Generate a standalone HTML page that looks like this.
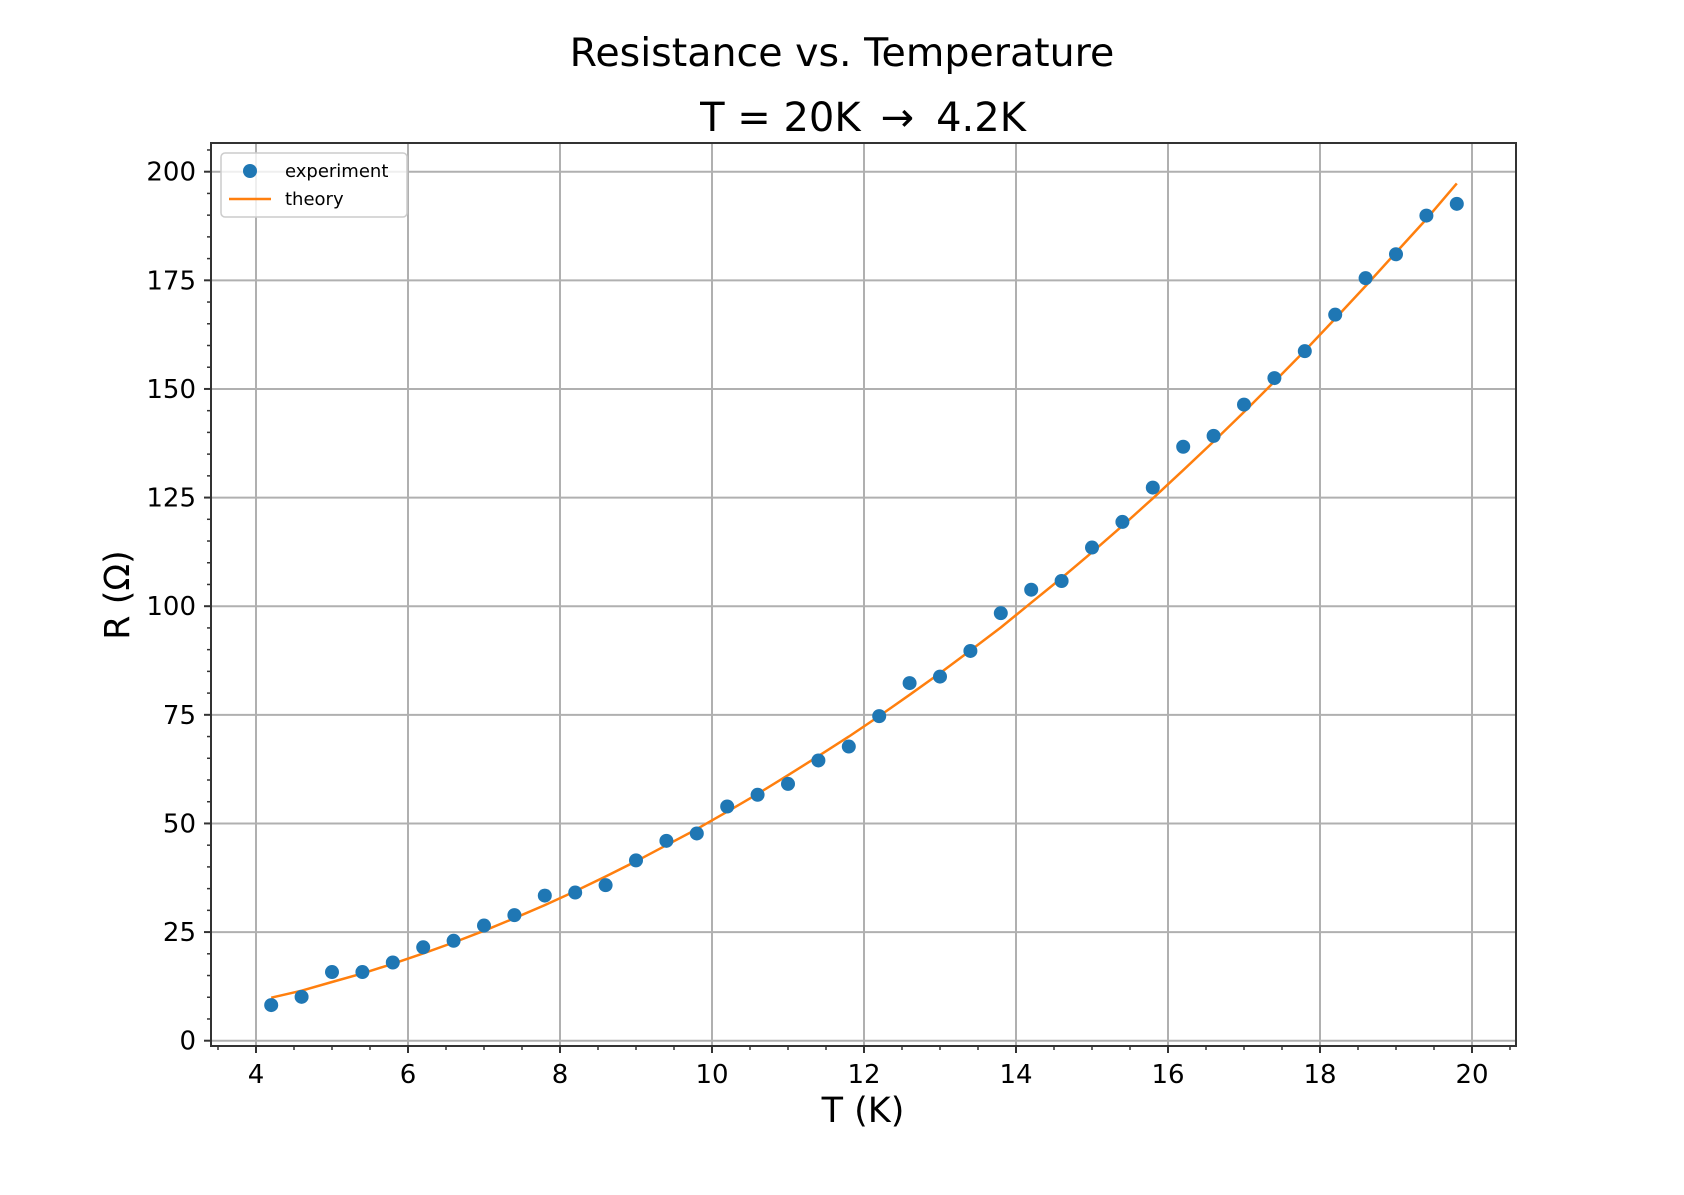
<!DOCTYPE html>
<html><head><meta charset="utf-8"><style>
html,body{margin:0;padding:0;background:#fff;}
svg{display:block;font-family:"DejaVu Sans","Liberation Sans",sans-serif;}
</style></head><body>
<svg id="chart" width="1684" height="1195" viewBox="0 0 1684 1195" xmlns="http://www.w3.org/2000/svg">
<rect width="1684" height="1195" fill="#fff"/>
<text x="842" y="66" font-size="39.5" text-anchor="middle">Resistance vs. Temperature</text>
<text x="863" y="131" font-size="40" text-anchor="middle">T = 20K<tspan dx="20">→</tspan><tspan dx="22">4.2K</tspan></text>
<g id="grid"></g>
<g id="ticks"></g>
<g id="series"></g>
<rect x="211" y="143" width="1305" height="903" fill="none" stroke="#333" stroke-width="2"/>
<text x="863" y="1122" font-size="35" text-anchor="middle">T (K)</text>
<text transform="translate(129,595) rotate(-90)" font-size="35" text-anchor="middle">R (Ω)</text>
<g>
<rect x="221" y="153" width="186" height="64" rx="4" fill="#fff" fill-opacity="0.8" stroke="#ccc" stroke-width="1.5"/>
<circle cx="250" cy="171" r="7" fill="#1f77b4"/>
<text x="285" y="177" font-size="18">experiment</text>
<line x1="229" y1="199" x2="271" y2="199" stroke="#ff7f0e" stroke-width="2.5"/>
<text x="285" y="205" font-size="18">theory</text>
</g>
</svg>
<script>
const temps = [4.2,4.6,5.0,5.4,5.8,6.2,6.6,7.0,7.4,7.8,8.2,8.6,9.0,9.4,9.8,10.2,10.6,11.0,11.4,11.8,12.2,12.6,13.0,13.4,13.8,14.2,14.6,15.0,15.4,15.8,16.2,16.6,17.0,17.4,17.8,18.2,18.6,19.0,19.4,19.8];
const experiment = [8.2,10.1,15.8,15.8,18.0,21.5,23.0,26.5,28.9,33.4,34.1,35.8,41.5,46.0,47.7,53.9,56.6,59.1,64.5,67.7,74.7,82.3,83.8,89.7,98.4,103.8,105.8,113.5,119.4,127.3,136.7,139.2,146.4,152.5,158.7,167.1,175.5,181.0,189.9,192.6];
const theory = [9.9,11.5,13.5,15.5,17.7,20.1,22.6,25.3,28.2,31.2,34.4,37.8,41.3,45.0,48.7,52.7,56.8,61.1,65.5,70.0,74.7,79.6,84.6,89.8,95.1,100.8,106.5,112.4,118.5,124.8,131.3,137.9,144.7,151.7,158.8,166.2,173.7,181.4,189.1,197.3];
const xTicks = [4,6,8,10,12,14,16,18,20];
const yTicks = [0,25,50,75,100,125,150,175,200];
const xTickLabels = ["4","6","8","10","12","14","16","18","20"];
const yTickLabels = ["0","25","50","75","100","125","150","175","200"];

const X0=211,X1=1516,Y0=143,Y1=1046;
function xpx(v){return 256+(v-4)*76;}
function ypx(v){return 1040.7-v*4.345;}
const NS="http://www.w3.org/2000/svg";
function mk(tag,attrs,parent){const e=document.createElementNS(NS,tag);for(const k in attrs)e.setAttribute(k,attrs[k]);parent.appendChild(e);return e;}
const grid=document.getElementById('grid'),ticks=document.getElementById('ticks'),series=document.getElementById('series');

xTicks.forEach((t,i)=>{
  const x=xpx(t);
  const g=mk('line',{x1:x,y1:Y0,x2:x,y2:Y1,stroke:'#b0b0b0','stroke-width':2},grid);
  
  
  const tk=mk('line',{x1:x,y1:Y1,x2:x,y2:Y1+7,stroke:'#333','stroke-width':2},ticks);
  
  
  const tx=mk('text',{x:x,y:1083,'font-size':26,'text-anchor':'middle'},ticks);
  tx.textContent=xTickLabels[i];
  
  
});
for(let v=3.5;v<=20.5;v+=0.5){
  if(Number.isInteger(v/2))continue;
  const x=xpx(v);
  const m=mk('line',{x1:x,y1:Y1,x2:x,y2:Y1+4,stroke:'#333','stroke-width':1.5},ticks);
  
  
}
yTicks.forEach((t,i)=>{
  const y=ypx(t);
  const g=mk('line',{x1:X0,y1:y,x2:X1,y2:y,stroke:'#b0b0b0','stroke-width':2},grid);
  
  
  const tk=mk('line',{x1:X0-7,y1:y,x2:X0,y2:y,stroke:'#333','stroke-width':2},ticks);
  
  
  const tx=mk('text',{x:196,y:y+9,'font-size':26,'text-anchor':'end'},ticks);
  tx.textContent=yTickLabels[i];
  
  
});
for(let v=5;v<=205;v+=5){
  if(v%25===0)continue;
  const y=ypx(v);
  const m=mk('line',{x1:X0-4,y1:y,x2:X0,y2:y,stroke:'#333','stroke-width':1.5},ticks);
  
  
}
const pts=temps.map((t,i)=>xpx(t).toFixed(1)+','+ypx(theory[i]).toFixed(1)).join(' ');
const line=mk('polyline',{points:pts,fill:'none',stroke:'#ff7f0e','stroke-width':2.5,'stroke-linejoin':'round'},series);


temps.forEach((t,i)=>{
  const c=mk('circle',{cx:xpx(t),cy:ypx(experiment[i]),r:7,fill:'#1f77b4'},series);
  
  
});
</script>
</body></html>
